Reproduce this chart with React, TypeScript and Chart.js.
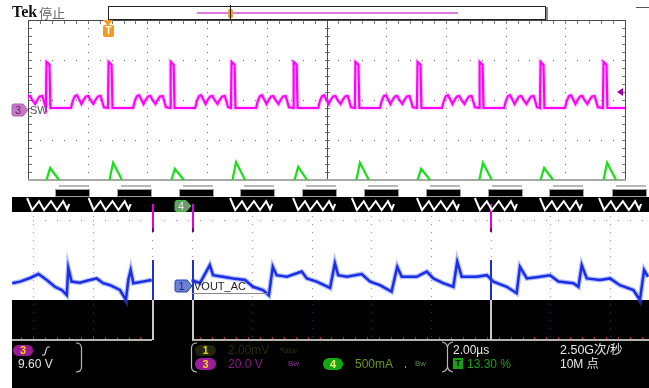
import { useEffect, useRef } from "react";
import { Chart, registerables } from "chart.js";

Chart.register(...registerables);

// Horizontal axis in µs (2.00 µs/div), vertical axis in screen divisions (40 px each).
const X_MIN = -10.536;
const X_MAX = 10.804;
const Y_MIN = -4;
const Y_MAX = 4;

// CH3 "SW" switch node: rising-edge times and the shape of one switching cycle
const SW_EDGES = [-11.35, -9.4, -7.32, -5.24, -3.2, -1.12, 0.95, 3.03, 5.11, 7.15, 9.26];
const SW_CYCLE_T = [
  0.0, 0.02, 0.12, 0.15, 0.84, 0.9, 0.97, 1.04, 1.11, 1.19, 1.26, 1.34, 1.42, 1.49, 1.59, 1.66,
  1.74, 1.83, 1.88, 1.94,
];
const SW_CYCLE_V = [
  1.8, 2.95, 2.88, 1.8, 1.8, 1.98, 2.1, 2.12, 2.02, 1.9, 2.0, 2.09, 2.1, 2.0, 1.9, 2.0, 2.09, 2.1,
  1.98, 1.82,
];

// CH4 inductor current ramps: peak times and peak heights
const I_PEAK_T = [-9.26, -7.15, -5.08, -3.03, -0.95, 1.12, 3.17, 5.24, 7.29, 9.4];
const I_PEAK_V = [0.3, 0.43, 0.28, 0.45, 0.33, 0.43, 0.28, 0.43, 0.3, 0.43];
const I_RISE = 0.12;
const I_FALL = 0.3;

// Ringing seen in the dark band under the upper graticule
const RING_START = [-10.03, -7.97, -3.23, -1.12, 0.85, 3.03, 4.97, 7.15, 9.13];
const RING_T = [0, 0.17, 0.4, 0.57, 0.8, 1.0, 1.21, 1.34, 1.41];
const RING_V = [-0.45, -0.75, -0.53, -0.75, -0.53, -0.75, -0.53, -0.73, -0.6];

// CH1 VOUT_AC ripple
const VOUT_T = [
  -10.53, -10.27, -9.93, -9.65, -9.37, -9.1, -8.87, -8.7, -8.65, -8.54, -8.26, -8.03, -7.7, -7.48,
  -7.25, -6.92, -6.72, -6.64, -6.56, -6.47, -6.14, -5.86, -5.2, -4.52, -4.24, -3.91, -3.8, -3.47,
  -3.13, -2.73, -2.46, -2.13, -1.93, -1.8, -1.67, -1.33, -0.83, -0.66, -0.33, -0.22, 0.12, 0.28,
  0.39, 0.68, 1.18, 1.46, 1.79, 2.18, 2.37, 2.52, 3.02, 3.36, 3.58, 3.91, 4.25, 4.38, 4.53, 5.03,
  5.37, 5.59, 6.04, 6.37, 6.48, 6.71, 7.15, 7.49, 7.77, 8.27, 8.44, 8.55, 8.72, 9.16, 9.5, 9.83,
  10.28, 10.5, 10.64, 10.77,
];
const VOUT_V = [
  -2.58, -2.54, -2.45, -2.35, -2.5, -2.67, -2.75, -2.88, -2.2, -2.54, -2.57, -2.52, -2.46, -2.58,
  -2.63, -2.75, -3.0, -2.5, -2.25, -2.58, -2.54, -2.5, null, -2.5, -2.58, -2.13, -2.38, -2.42,
  -2.46, -2.5, -2.67, -2.75, -2.88, -2.17, -2.38, -2.42, -2.29, -2.46, -2.54, -2.58, -2.7, -2.08,
  -2.38, -2.42, -2.35, -2.54, -2.63, -2.79, -2.17, -2.42, -2.42, -2.29, -2.46, -2.58, -2.67, -2.04,
  -2.42, -2.42, -2.38, -2.54, -2.67, -2.83, -2.17, -2.46, -2.42, -2.38, -2.54, -2.58, -2.67, -2.13,
  -2.46, -2.5, -2.46, -2.63, -2.75, -3.0, -2.25, -2.42,
];

// Markers and glitch lines (time positions)
const TRIG_T = -7.32;
const SPLIT_T = [-5.85, -4.51, 5.48];

type Pt = { x: number; y: number | null };

function repeatCycle(starts: number[], offs: number[], vals: number[], gap: boolean): Pt[] {
  const pts: Pt[] = [];
  starts.forEach((s) => {
    offs.forEach((o, i) => pts.push({ x: s + o, y: vals[i] }));
    if (gap) pts.push({ x: s + offs[offs.length - 1] + 0.01, y: null });
  });
  return pts;
}

function rampPoints(): Pt[] {
  const pts: Pt[] = [];
  I_PEAK_T.forEach((t, i) => {
    pts.push({ x: t - I_RISE, y: 0 });
    pts.push({ x: t, y: I_PEAK_V[i] });
    pts.push({ x: t + I_FALL, y: 0 });
    pts.push({ x: t + I_FALL + 0.01, y: null });
  });
  return pts;
}

const FONT = "'Liberation Sans', 'Noto Sans CJK SC', sans-serif";

function label(ctx: CanvasRenderingContext2D, s: string, x: number, y: number, font: string, color: string, align: CanvasTextAlign = "left") {
  ctx.font = font;
  ctx.fillStyle = color;
  ctx.textAlign = align;
  ctx.textBaseline = "middle";
  ctx.fillText(s, x, y);
}

function pill(ctx: CanvasRenderingContext2D, x: number, y: number, w: number, h: number, fill: string, txt: string, txtColor: string) {
  ctx.beginPath();
  ctx.roundRect(x, y, w, h, h / 2);
  ctx.fillStyle = fill;
  ctx.fill();
  label(ctx, txt, x + w / 2, y + h / 2 + 0.5, `bold 11px ${FONT}`, txtColor, "center");
}

function tag(ctx: CanvasRenderingContext2D, x: number, cy: number, w: number, h: number, fill: string, stroke: string, txt: string, txtColor: string) {
  const top = cy - h / 2;
  const bot = cy + h / 2;
  ctx.beginPath();
  ctx.moveTo(x + 2, top);
  ctx.lineTo(x + w - 5, top);
  ctx.lineTo(x + w, cy);
  ctx.lineTo(x + w - 5, bot);
  ctx.lineTo(x + 2, bot);
  ctx.quadraticCurveTo(x, bot, x, bot - 2);
  ctx.lineTo(x, top + 2);
  ctx.quadraticCurveTo(x, top, x + 2, top);
  ctx.closePath();
  ctx.fillStyle = fill;
  ctx.fill();
  ctx.strokeStyle = stroke;
  ctx.lineWidth = 1;
  ctx.stroke();
  label(ctx, txt, x + (w - 4) / 2, cy + 0.5, `11px ${FONT}`, txtColor, "center");
}

const scopePlugin = {
  id: "scopeScreen",
  beforeDraw(chart: any) {
    const { ctx, width, height } = chart;
    ctx.save();
    ctx.fillStyle = "#ffffff";
    ctx.fillRect(0, 0, width, height);
    ctx.restore();
  },
  beforeDatasetsDraw(chart: any) {
    const { ctx, chartArea: a, height } = chart;
    const X = (t: number) => chart.scales.x.getPixelForValue(t);
    const Y = (d: number) => chart.scales.y.getPixelForValue(d);
    const L = Math.round(X(-10));
    const R = Math.round(X(10));
    const C = Math.round(X(0));
    const T = Math.round(Y(4));
    const B = Math.round(Y(0));
    ctx.save();

    // dark band and lower screen
    ctx.fillStyle = "#000";
    ctx.fillRect(a.left, Math.round(Y(-0.43)), a.right - a.left, Math.round(Y(-0.8) - Y(-0.43)));
    ctx.fillRect(a.left, Math.round(Y(-3)), a.right - a.left, height - Math.round(Y(-3)));

    // stacked bars above the band, one per switching cycle
    SW_EDGES.filter((t) => t > -10).forEach((t) => {
      const x0 = Math.round(X(t + 0.3));
      const x1 = Math.round(X(Math.min(t + 1.45, 10.7)));
      ctx.fillStyle = "#000";
      ctx.fillRect(x0, Math.round(Y(-0.22)), x1 - x0, 7);
      ctx.strokeStyle = "#a0a0a0";
      ctx.lineWidth = 1;
      ctx.strokeRect(x0 + 0.5, Math.round(Y(-0.22)) + 0.5, x1 - x0, 7);
      ctx.fillStyle = "#b8b8b8";
      ctx.fillRect(x0 + 4, Math.round(Y(-0.12)), x1 - x0 - 4, 2);
    });

    // upper graticule dots
    ctx.fillStyle = "#6a6a6a";
    for (let k = -4; k <= 4; k++) {
      if (k === 0) continue;
      const x = Math.round(X(2 * k));
      for (let d = 0.2; d < 3.99; d += 0.2) ctx.fillRect(x, Math.round(Y(d)), 1, 1);
    }
    for (let d = 1; d <= 3; d++) {
      const y = Math.round(Y(d));
      for (let t = -9.6; t < 9.9; t += 0.4) ctx.fillRect(Math.round(X(t)), y, 1, 1);
    }
    // ticks on the frame and centre line
    ctx.fillStyle = "#777";
    for (let t = -9.6; t < 9.9; t += 0.4) ctx.fillRect(Math.round(X(t)), T + 1, 1, 3);
    for (let d = 0.2; d < 3.99; d += 0.2) {
      const y = Math.round(Y(d));
      ctx.fillRect(L + 1, y, 3, 1);
      ctx.fillRect(R - 3, y, 3, 1);
      ctx.fillRect(C - 2, y, 5, 1);
    }
    // frame
    ctx.fillStyle = "#4a4a4a";
    ctx.fillRect(L, T, R - L + 1, 1);
    ctx.fillRect(L, T, 1, B - T);
    ctx.fillRect(R, T, 1, B - T);
    ctx.fillRect(C, T, 1, B - T);
    ctx.fillStyle = "#a8a8a8";
    ctx.fillRect(L, B - 1, R - L + 1, 2);

    // lower graticule (shifted columns)
    const split = X(SPLIT_T[0]);
    const cols: number[] = [];
    for (let k = -5; k <= 5; k++) {
      const x = X(2 * k);
      cols.push(Math.round(x <= split + 1 ? x + 5 : x - 15));
    }
    const yBand = Math.round(Y(-0.8));
    const yDark = Math.round(Y(-3));
    const yAxis = Math.round(Y(-4));
    cols.forEach((x) => {
      for (let d = -0.9; d > -3.99; d -= 0.2) {
        const y = Math.round(Y(d));
        if (y < yBand + 2) continue;
        ctx.fillStyle = y < yDark ? "#a58aa8" : "#283090";
        ctx.fillRect(x, y, 1, 1);
      }
    });
    ctx.fillStyle = "#d070d0";
    const yRow = Math.round(Y(-1));
    for (let x = cols[0]; x < a.right; x += 11.94) ctx.fillRect(Math.round(x), yRow, 1, 1);

    // bottom axis line with tick marks
    ctx.fillStyle = "#b4b4b4";
    ctx.fillRect(a.left, yAxis - 1, Math.round(X(SPLIT_T[0])) - a.left, 2);
    ctx.fillRect(Math.round(X(SPLIT_T[1])), yAxis - 1, a.right - Math.round(X(SPLIT_T[1])), 2);
    ctx.fillStyle = "#b02848";
    for (let x = cols[0] - 11.94; x < a.right; x += 11.94) {
      if (x > X(SPLIT_T[0]) && x < X(SPLIT_T[1])) continue;
      ctx.fillRect(Math.round(x), yAxis - 3, 1, 2);
    }

    // vertical split lines
    SPLIT_T.forEach((t) => {
      const x = Math.round(X(t));
      ctx.fillStyle = "#e000e0";
      ctx.fillRect(x, Math.round(Y(-0.6)), 2, Math.round(Y(-1.2) - Y(-0.6)));
      ctx.fillStyle = "#800080";
      ctx.fillRect(x, Math.round(Y(-1.2)), 2, 4);
      ctx.fillStyle = "#2030c0";
      ctx.fillRect(x, Math.round(Y(-2.0)), 2, Math.round(Y(-3) - Y(-2.0)));
      ctx.fillStyle = "#c8c8c8";
      ctx.fillRect(x, yDark, 2, yAxis - yDark);
    });
    ctx.restore();
  },
  beforeDatasetDraw(chart: any, args: any) {
    const ds = chart.data.datasets[args.index];
    if (!ds.screenClip) return;
    const X = (t: number) => chart.scales.x.getPixelForValue(t);
    const { ctx, chartArea: a } = chart;
    ctx.save();
    ctx.beginPath();
    ctx.rect(X(-10), a.top, X(10) - X(-10), a.bottom - a.top);
    ctx.clip();
  },
  afterDatasetDraw(chart: any, args: any) {
    const ds = chart.data.datasets[args.index];
    if (!ds.screenClip) return;
    chart.ctx.restore();
  },
  afterDatasetsDraw(chart: any) {
    const { ctx } = chart;
    const X = (t: number) => chart.scales.x.getPixelForValue(t);
    const Y = (d: number) => chart.scales.y.getPixelForValue(d);
    ctx.save();

    // header
    label(ctx, "Tek", 12, 12.5, "bold 16px 'Liberation Serif', serif", "#111");
    label(ctx, "停止", 39, 13, "13px 'Noto Sans CJK SC', sans-serif", "#666");

    // record view bar
    ctx.fillStyle = "#fff";
    ctx.fillRect(108, 6, 437, 13);
    ctx.strokeStyle = "#222";
    ctx.lineWidth = 1;
    ctx.strokeRect(108.5, 6.5, 437, 13);
    ctx.fillStyle = "#8a8a8a";
    ctx.fillRect(546, 7, 2, 13);
    ctx.fillStyle = "#e07ae0";
    ctx.fillRect(197, 12, 261, 2);
    ctx.fillStyle = "#f0a030";
    ctx.beginPath();
    ctx.roundRect(228, 9, 5, 9, 1.5);
    ctx.fill();
    ctx.fillStyle = "#222";
    ctx.fillRect(230, 5, 1, 14);
    ctx.fillStyle = "#555";
    ctx.fillRect(636, 7, 13, 1);

    // trigger position marker
    const tx = Math.round(X(TRIG_T));
    ctx.fillStyle = "#f59a23";
    ctx.beginPath();
    ctx.moveTo(tx - 5, 20);
    ctx.lineTo(tx + 5, 20);
    ctx.lineTo(tx, 26);
    ctx.closePath();
    ctx.fill();
    ctx.beginPath();
    ctx.roundRect(tx - 5, 25, 11, 12, 2);
    ctx.fill();
    label(ctx, "T", tx + 0.5, 31.5, `bold 10px ${FONT}`, "#fff", "center");

    // trigger level arrow
    const ly = Math.round(Y(2.2));
    ctx.fillStyle = "#a000a0";
    ctx.beginPath();
    ctx.moveTo(617, ly);
    ctx.lineTo(623, ly - 4);
    ctx.lineTo(623, ly + 4);
    ctx.closePath();
    ctx.fill();

    // channel markers
    tag(ctx, 12, Math.round(Y(1.75)), 16, 12, "#c57ac5", "#b060b0", "3", "#6a1a6a");
    label(ctx, "SW", 30, Math.round(Y(1.75)) + 0.5, `11px ${FONT}`, "#555");
    tag(ctx, 175, Math.round(Y(-0.66)), 16, 11, "#6f9a6f", "#3cc03c", "4", "#dfe8df");
    tag(ctx, 175, Math.round(Y(-2.64)), 17, 12, "#6a82cf", "#2040c0", "1", "#1a2a80");
    label(ctx, "VOUT_AC", 194, Math.round(Y(-2.64)) + 0.5, `11px ${FONT}`, "#222");
    ctx.fillStyle = "#8a8a8a";
    ctx.fillRect(192, Math.round(Y(-2.83)), 76, 1);

    // readouts
    const ry1 = 350.5;
    const ry2 = 364;
    ctx.strokeStyle = "#b8b8b8";
    ctx.lineWidth = 1.2;
    ctx.beginPath();
    ctx.moveTo(76, 343);
    ctx.quadraticCurveTo(81.5, 343, 81.5, 348);
    ctx.lineTo(81.5, 367);
    ctx.quadraticCurveTo(81.5, 372, 76, 372);
    ctx.moveTo(197, 343);
    ctx.quadraticCurveTo(191.5, 343, 191.5, 348);
    ctx.lineTo(191.5, 367);
    ctx.quadraticCurveTo(191.5, 372, 197, 372);
    // time/div bracket
    ctx.moveTo(442, 342);
    ctx.quadraticCurveTo(447.5, 343, 447.5, 348);
    ctx.lineTo(447.5, 366);
    ctx.quadraticCurveTo(447.5, 371, 442, 372);
    ctx.moveTo(453, 342);
    ctx.quadraticCurveTo(447.5, 343, 447.5, 348);
    ctx.moveTo(453, 372);
    ctx.quadraticCurveTo(447.5, 371, 447.5, 366);
    ctx.stroke();

    pill(ctx, 13, 345, 20, 11, "#9a1a9a", "3", "#ffd800");
    ctx.strokeStyle = "#d8d8d8";
    ctx.lineWidth = 1.2;
    ctx.beginPath();
    ctx.moveTo(42, 355);
    ctx.lineTo(44, 355);
    ctx.bezierCurveTo(46, 355, 45.5, 347, 48, 347);
    ctx.lineTo(50, 347);
    ctx.stroke();
    label(ctx, "9.60 V", 18, ry2 + 0.5, `12px ${FONT}`, "#e4e4e4");

    pill(ctx, 195, 345, 21, 11, "#23230e", "1", "#d8d800");
    label(ctx, "2.00mV", 228, ry1, `12px ${FONT}`, "#2c2c0e");
    label(ctx, "∿", 279, ry1, `11px ${FONT}`, "#2c2c0e");
    label(ctx, "Bw", 286, ry1, `8px ${FONT}`, "#2c2c0e");
    pill(ctx, 195, 358, 21, 12, "#9c1c9c", "3", "#ffd800");
    label(ctx, "20.0 V", 228, ry2 + 0.5, `12px ${FONT}`, "#8c1a8c");
    label(ctx, "Bw", 288, ry2, `8px ${FONT}`, "#9a2a9a");
    pill(ctx, 323, 358, 20, 12, "#12a812", "4", "#eef27a");
    label(ctx, "500mA", 355, ry2 + 0.5, `12px ${FONT}`, "#6a9a12");
    ctx.fillStyle = "#c0b000";
    ctx.fillRect(405, 366, 1, 2);
    label(ctx, "Bw", 415, ry2, `8px ${FONT}`, "#5a8a5a");

    label(ctx, "2.00µs", 453, ry1, `12px ${FONT}`, "#e8e8e8");
    ctx.fillStyle = "#18a018";
    ctx.fillRect(453, 358, 10, 11);
    label(ctx, "T", 458, ry2, `bold 9px ${FONT}`, "#0a0a0a", "center");
    label(ctx, "13.30 %", 467, ry2 + 0.5, `12px ${FONT}`, "#18a018");
    label(ctx, "2.50G次/秒", 560, ry1, `12.5px ${FONT}`, "#e8e8e8");
    label(ctx, "10M 点", 560, ry2 + 0.5, `12px ${FONT}`, "#e8e8e8");

    ctx.restore();
  },
};

export default function App() {
  const ref = useRef<HTMLCanvasElement | null>(null);

  useEffect(() => {
    if (!ref.current) return;
    const sw = repeatCycle(SW_EDGES, SW_CYCLE_T, SW_CYCLE_V, false);
    const ring = repeatCycle(RING_START, RING_T, RING_V, true);
    const ramps = rampPoints();
    const vout: Pt[] = VOUT_T.map((t, i) => ({ x: t, y: VOUT_V[i] }));

    const chart = new Chart(ref.current, {
      type: "line",
      data: {
        datasets: [
          { label: "SW", data: sw, borderColor: "#ff00ff", borderWidth: 2.2, screenClip: true } as any,
          { label: "SW glow", data: sw, borderColor: "rgba(255,120,255,0.3)", borderWidth: 4.5, screenClip: true } as any,
          { label: "IL", data: ramps, borderColor: "#18e018", borderWidth: 2.2, screenClip: true } as any,
          { label: "ring", data: ring, borderColor: "#ffffff", borderWidth: 2 },
          { label: "VOUT_AC", data: vout, borderColor: "#1a2ee8", borderWidth: 2.5 },
          { label: "VOUT glow", data: vout, borderColor: "rgba(70,100,255,0.4)", borderWidth: 5 },
        ],
      },
      options: {
        responsive: false,
        animation: false,
        devicePixelRatio: 1,
        events: [],
        layout: { padding: { left: 12, right: 0, top: 20, bottom: 48 } },
        elements: { point: { radius: 0 }, line: { tension: 0 } },
        scales: {
          x: { type: "linear", min: X_MIN, max: X_MAX, display: false },
          y: { type: "linear", min: Y_MIN, max: Y_MAX, display: false },
        },
        plugins: { legend: { display: false }, tooltip: { enabled: false } },
      },
      plugins: [scopePlugin],
    });
    return () => chart.destroy();
  }, []);

  return (
    <div style={{ position: "fixed", left: 0, top: 0, width: 649, height: 388, background: "#fff" }}>
      <canvas ref={ref} width={649} height={388} style={{ display: "block", width: 649, height: 388 }} />
    </div>
  );
}
